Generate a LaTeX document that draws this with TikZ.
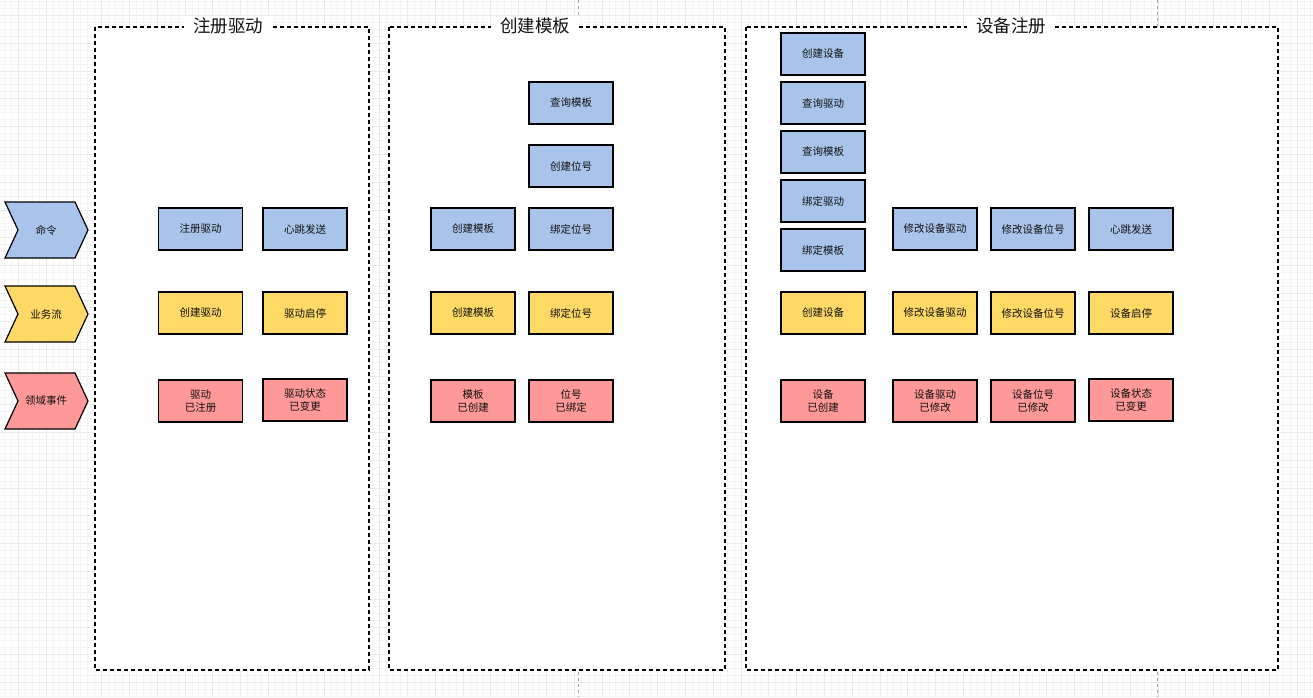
\documentclass[tikz,border=0pt]{standalone}
\usepackage{fontspec}
\setmainfont{Noto Sans CJK SC}
\definecolor{cmdblue}{HTML}{A9C4EB}
\definecolor{flowyel}{HTML}{FFD966}
\definecolor{evtred}{HTML}{FF9999}
\definecolor{gridminor}{HTML}{F4F4F4}
\definecolor{gridmajor}{HTML}{EAEAEA}
\definecolor{txt}{HTML}{111111}
\tikzset{
  box/.style={draw=black, line width=1.2pt, minimum width=84pt, minimum height=42pt,
    inner sep=1pt, align=center, text=txt, font=\fontsize{10.5}{12.5}\selectfont},
  cmdbox/.style={box, fill=cmdblue},
  flowbox/.style={box, fill=flowyel},
  evtbox/.style={box, fill=evtred},
  frame/.style={draw=black, fill=white, line width=1.3pt, dash pattern=on 4pt off 3pt},
  title/.style={fill=white, inner xsep=9pt, inner ysep=2pt, text=txt, font=\fontsize{17.5}{19}\selectfont},
  chev/.style={draw=black, line width=1.2pt, line join=miter},
  chevtext/.style={text=txt, font=\fontsize{10.5}{12.5}\selectfont},
  pagebreak/.style={draw=black!35, line width=0.6pt, dash pattern=on 3pt off 3pt}
}
\begin{document}
\begin{tikzpicture}[x=1pt,y=-1pt]
\useasboundingbox (0,0) rectangle (1313,697);
\fill[white] (0,0) rectangle (1313,697);
% grid
\foreach \k in {-3,...,186} {\draw[gridminor, line width=0.5pt] (18+\k*6.95,0) -- (18+\k*6.95,697);}
\foreach \k in {-3,...,101} {\draw[gridminor, line width=0.5pt] (0,15.2+\k*6.95) -- (1313,15.2+\k*6.95);}
\foreach \k in {-1,...,47} {\draw[gridmajor, line width=0.6pt] (18+\k*27.8,0) -- (18+\k*27.8,697);}
\foreach \k in {-1,...,25} {\draw[gridmajor, line width=0.6pt] (0,15.2+\k*27.8) -- (1313,15.2+\k*27.8);}
% page breaks
\coordinate (pb1t) at (578,0); \coordinate (pb1b) at (578,697);
\coordinate (pb2t) at (1157,0); \coordinate (pb2b) at (1157,697);
\draw[pagebreak] (pb1t) -- (pb1b);
\draw[pagebreak] (pb2t) -- (pb2b);

% frames
\draw[frame] (95,27) rectangle (369,670);
\draw[frame] (389,27) rectangle (725,670);
\draw[frame] (746,27) rectangle (1278,670);
\node[title] (t1) at (228,26) {注册驱动};
\node[title] (t2) at (535,26) {创建模板};
\node[title] (t3) at (1011,26) {设备注册};

% chevrons
\draw[chev, fill=cmdblue] (5,202) -- (75,202) -- (88,230) -- (75,258) -- (5,258) -- (18,230) -- cycle;
\node[chevtext] (c1) at (46,230) {命令};
\draw[chev, fill=flowyel] (5,286) -- (75,286) -- (88,314) -- (75,342) -- (5,342) -- (18,314) -- cycle;
\node[chevtext] (c2) at (46,314) {业务流};
\draw[chev, fill=evtred] (5,373) -- (75,373) -- (88,401) -- (75,429) -- (5,429) -- (18,401) -- cycle;
\node[chevtext] (c3) at (46,401) {领域事件};

% frame 1
\node[cmdbox] (a1) at (200.5,229) {注册驱动};
\node[cmdbox] (a2) at (305,229) {心跳发送};
\node[flowbox] (a3) at (200.5,313) {创建驱动};
\node[flowbox] (a4) at (305,313) {驱动启停};
\node[evtbox] (a5) at (200.5,401) {驱动\\已注册};
\node[evtbox] (a6) at (305,400) {驱动状态\\已变更};

% frame 2
\node[cmdbox] (b1) at (571,103) {查询模板};
\node[cmdbox] (b2) at (571,166) {创建位号};
\node[cmdbox] (b3) at (473,229) {创建模板};
\node[cmdbox] (b4) at (571,229) {绑定位号};
\node[flowbox] (b5) at (473,313) {创建模板};
\node[flowbox] (b6) at (571,313) {绑定位号};
\node[evtbox] (b7) at (473,401) {模板\\已创建};
\node[evtbox] (b8) at (571,401) {位号\\已绑定};

% frame 3
\node[cmdbox] (d1) at (823,54) {创建设备};
\node[cmdbox] (d2) at (823,103) {查询驱动};
\node[cmdbox] (d3) at (823,152) {查询模板};
\node[cmdbox] (d4) at (823,201) {绑定驱动};
\node[cmdbox] (d5) at (823,250) {绑定模板};
\node[cmdbox] (d6) at (935,229) {修改设备驱动};
\node[cmdbox] (d7) at (1033,229) {修改设备位号};
\node[cmdbox] (d8) at (1131,229) {心跳发送};
\node[flowbox] (e1) at (823,313) {创建设备};
\node[flowbox] (e2) at (935,313) {修改设备驱动};
\node[flowbox] (e3) at (1033,313) {修改设备位号};
\node[flowbox] (e4) at (1131,313) {设备启停};
\node[evtbox] (g1) at (823,401) {设备\\已创建};
\node[evtbox] (g2) at (935,401) {设备驱动\\已修改};
\node[evtbox] (g3) at (1033,401) {设备位号\\已修改};
\node[evtbox] (g4) at (1131,400) {设备状态\\已变更};
\end{tikzpicture}
\end{document}
